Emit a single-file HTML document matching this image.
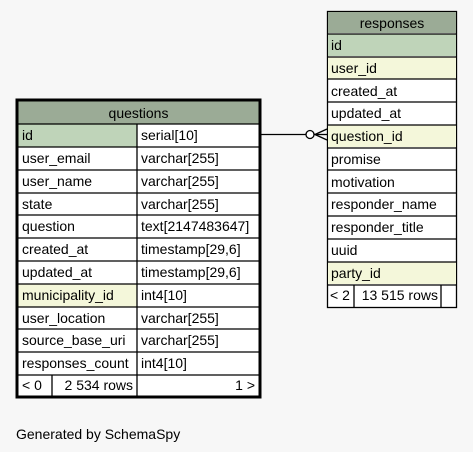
<html><head><style>body{margin:0;background:#f7f7f7}</style></head><body>
<svg width="473" height="452" xmlns="http://www.w3.org/2000/svg" font-family="Liberation Sans, sans-serif" font-size="14">
<rect width="473" height="452" fill="#f7f7f7"/>
<g>
<rect x="17" y="100" width="243" height="297" fill="#fff" stroke="#000" stroke-width="3"/>
<rect x="18.5" y="101.5" width="240" height="22" fill="#9bab96"/>
<text x="138.5" y="118" text-anchor="middle">questions</text>
<rect x="18.5" y="124.5" width="118" height="22" fill="#bfd4b9"/>
<rect x="18.5" y="284.5" width="118" height="22" fill="#f4f7da"/>
<g stroke="#000" stroke-width="1.3">
<line x1="18" x2="259" y1="124" y2="124"/><line x1="18" x2="259" y1="147" y2="147"/>
<line x1="18" x2="259" y1="170" y2="170"/><line x1="18" x2="259" y1="193" y2="193"/>
<line x1="18" x2="259" y1="215" y2="215"/><line x1="18" x2="259" y1="238" y2="238"/>
<line x1="18" x2="259" y1="261" y2="261"/><line x1="18" x2="259" y1="284" y2="284"/>
<line x1="18" x2="259" y1="307" y2="307"/><line x1="18" x2="259" y1="329" y2="329"/>
<line x1="18" x2="259" y1="352" y2="352"/><line x1="18" x2="259" y1="375" y2="375"/>
<line x1="137" x2="137" y1="124" y2="396"/><line x1="52" x2="52" y1="375" y2="396"/>
</g>
<g>
<text x="22" y="140">id</text><text x="141" y="140">serial[10]</text>
<text x="22" y="163">user_email</text><text x="141" y="163">varchar[255]</text>
<text x="22" y="186">user_name</text><text x="141" y="186">varchar[255]</text>
<text x="22" y="209">state</text><text x="141" y="209">varchar[255]</text>
<text x="22" y="231">question</text><text x="141" y="231">text[2147483647]</text>
<text x="22" y="254">created_at</text><text x="141" y="254">timestamp[29,6]</text>
<text x="22" y="277">updated_at</text><text x="141" y="277">timestamp[29,6]</text>
<text x="22" y="300">municipality_id</text><text x="141" y="300">int4[10]</text>
<text x="22" y="323">user_location</text><text x="141" y="323">varchar[255]</text>
<text x="22" y="345">source_base_uri</text><text x="141" y="345">varchar[255]</text>
<text x="22" y="368">responses_count</text><text x="141" y="368">int4[10]</text>
<text x="22" y="390">&lt; 0</text><text x="133" y="390" text-anchor="end">2 534 rows</text><text x="255" y="390" text-anchor="end">1 &gt;</text>
</g>
</g>
<g>
<rect x="327.5" y="11.5" width="129" height="296" fill="#fff" stroke="#000" stroke-width="1.3"/>
<rect x="328" y="12" width="128" height="21" fill="#9bab96"/>
<rect x="328" y="34" width="128" height="22" fill="#bfd4b9"/>
<rect x="328" y="57" width="128" height="22" fill="#f4f7da"/>
<rect x="328" y="125" width="128" height="22" fill="#f4f7da"/>
<rect x="328" y="262" width="128" height="22" fill="#f4f7da"/>
<g stroke="#000" stroke-width="1.3">
<line x1="327" x2="457" y1="34" y2="34"/><line x1="327" x2="457" y1="57" y2="57"/>
<line x1="327" x2="457" y1="79" y2="79"/><line x1="327" x2="457" y1="102" y2="102"/>
<line x1="327" x2="457" y1="125" y2="125"/><line x1="327" x2="457" y1="148" y2="148"/>
<line x1="327" x2="457" y1="170" y2="170"/><line x1="327" x2="457" y1="193" y2="193"/>
<line x1="327" x2="457" y1="216" y2="216"/><line x1="327" x2="457" y1="239" y2="239"/>
<line x1="327" x2="457" y1="262" y2="262"/><line x1="327" x2="457" y1="285" y2="285"/>
<line x1="354" x2="354" y1="285" y2="307"/><line x1="441" x2="441" y1="285" y2="307"/>
</g>
<text x="392" y="28" text-anchor="middle">responses</text>
<text x="331" y="50">id</text>
<text x="331" y="73">user_id</text>
<text x="331" y="96">created_at</text>
<text x="331" y="118">updated_at</text>
<text x="331" y="141">question_id</text>
<text x="331" y="164">promise</text>
<text x="331" y="187">motivation</text>
<text x="331" y="209">responder_name</text>
<text x="331" y="232">responder_title</text>
<text x="331" y="255">uuid</text>
<text x="331" y="278">party_id</text>
<text x="330" y="300">&lt; 2</text><text x="438" y="300" text-anchor="end">13 515 rows</text>
</g>
<g stroke="#000" stroke-width="1.3" fill="none">
<line x1="261" y1="134.5" x2="306" y2="134.5"/>
<circle cx="310" cy="134.5" r="4" fill="#fff"/>
<line x1="314" y1="134.5" x2="327" y2="134.5"/>
<line x1="315" y1="134.5" x2="327" y2="129"/>
<line x1="315" y1="134.5" x2="327" y2="140"/>
</g>
<text x="16" y="439" font-size="14">Generated by SchemaSpy</text>
</svg>
</body></html>
